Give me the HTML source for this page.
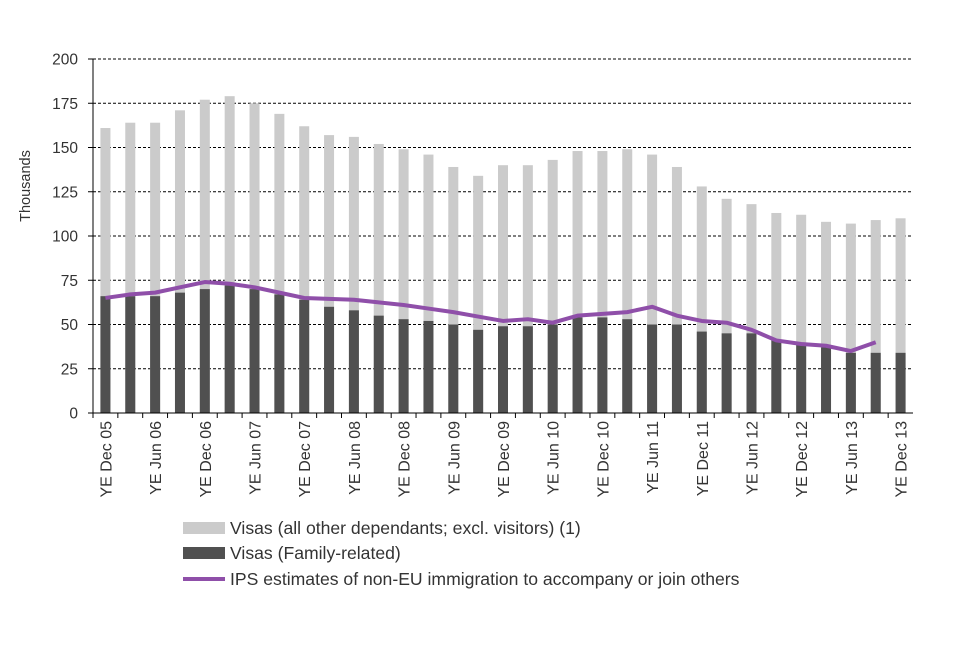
<!DOCTYPE html>
<html><head><meta charset="utf-8"><style>
body{margin:0;background:#fff;}
svg text{font-family:"Liberation Sans",Arial,sans-serif;fill:#333;}
</style></head><body>
<svg id="chart" width="960" height="640" xmlns="http://www.w3.org/2000/svg"></svg>
<script>
const categories=["YE Dec 05","YE Mar 06","YE Jun 06","YE Sep 06","YE Dec 06","YE Mar 07","YE Jun 07","YE Sep 07","YE Dec 07","YE Mar 08","YE Jun 08","YE Sep 08","YE Dec 08","YE Mar 09","YE Jun 09","YE Sep 09","YE Dec 09","YE Mar 10","YE Jun 10","YE Sep 10","YE Dec 10","YE Mar 11","YE Jun 11","YE Sep 11","YE Dec 11","YE Mar 12","YE Jun 12","YE Sep 12","YE Dec 12","YE Mar 13","YE Jun 13","YE Sep 13","YE Dec 13"];
const totalVisas=[161,164,164,171,177,179,175,169,162,157,156,152,149,146,139,134,140,140,143,148,148,149,146,139,128,121,118,113,112,108,107,109,110];
const familyVisas=[66,66,66,68,70,72,70,67,64,60,58,55,53,52,50,47,49,49,50,54,54,53,50,50,46,45,45,41,39,37,34,34,34];
const ipsEstimates=[65,67,68,71,74,73,71,68,65,64.5,64,62.5,61,59,57,54.5,52,53,51,55,56,57,60,55,52,51,47,41,39,38,35,40];
const yTicks=[0,25,50,75,100,125,150,175,200];

const svg=document.getElementById('chart');
const NS='http://www.w3.org/2000/svg';
const X0=93,X1=913,Y0=413,Y1=59,YMAX=200;
const step=(X1-X0)/categories.length;
const xc=i=>X0+step*(i+0.5);
const y=v=>Y0-(v/YMAX)*(Y0-Y1);
function mk(tag,attrs,parent){const e=document.createElementNS(NS,tag);for(const k in attrs)e.setAttribute(k,attrs[k]);(parent||svg).appendChild(e);return e;}

yTicks.forEach(t=>{
  if(t>0){const g=mk('line',{x1:X0,x2:X1,y1:y(t),y2:y(t),stroke:'#000','stroke-width':1,'stroke-dasharray':'3,2'});
  
  }
  const tx=mk('text',{x:78,y:y(t)+5.5,'text-anchor':'end','font-size':15.5});tx.textContent=t;
  
  
});
const yt=mk('text',{x:30,y:186,'text-anchor':'middle','font-size':14.5,transform:'rotate(-90 30 186)'});yt.textContent='Thousands';



categories.forEach((c,i)=>{
  const bw=10;
  const r1=mk('rect',{x:xc(i)-bw/2,y:y(totalVisas[i]),width:bw,height:y(0)-y(totalVisas[i]),fill:'#cbcbcb'});
  
  
  const r2=mk('rect',{x:xc(i)-bw/2,y:y(familyVisas[i]),width:bw,height:y(0)-y(familyVisas[i]),fill:'#505050'});
  
  
  const tk=mk('line',{x1:X0+step*i,x2:X0+step*i,y1:Y0,y2:Y0+5,stroke:'#000'});
  
  
  if(i%2===0){
    const lx=xc(i)+6,ly=421;
    const t=mk('text',{x:lx,y:ly,'text-anchor':'end','font-size':16,transform:`rotate(-90 ${lx} ${ly})`});t.textContent=c;
    
    
  }
});
const ax=mk('line',{x1:X0,x2:X0,y1:Y1,y2:Y0,stroke:'#000'});


const bx=mk('line',{x1:X0-5,x2:X1,y1:Y0,y2:Y0,stroke:'#000'});


yTicks.forEach(t=>{const l=mk('line',{x1:X0-5,x2:X0,y1:y(t),y2:y(t),stroke:'#000'});

});

const pl=mk('polyline',{points:ipsEstimates.map((v,i)=>xc(i)+','+y(v)).join(' '),fill:'none',stroke:'#8f4fa9','stroke-width':4,'stroke-linejoin':'round'});



const leg=[['rect','#cbcbcb','Visas (all other dependants; excl. visitors) (1)',528],['rect','#505050','Visas (Family-related)',553],['line','#8f4fa9','IPS estimates of non-EU immigration to accompany or join others',579]];
leg.forEach((l,k)=>{
  let s;
  if(l[0]==='rect')s=mk('rect',{x:183,y:l[3]-6,width:42,height:12,fill:l[1]});
  else s=mk('line',{x1:183,x2:225,y1:l[3],y2:l[3],stroke:l[1],'stroke-width':4});
  
  
  const t=mk('text',{x:230,y:l[3]+6,'font-size':17.6});t.textContent=l[2];
  
  
});
</script>
</body></html>
